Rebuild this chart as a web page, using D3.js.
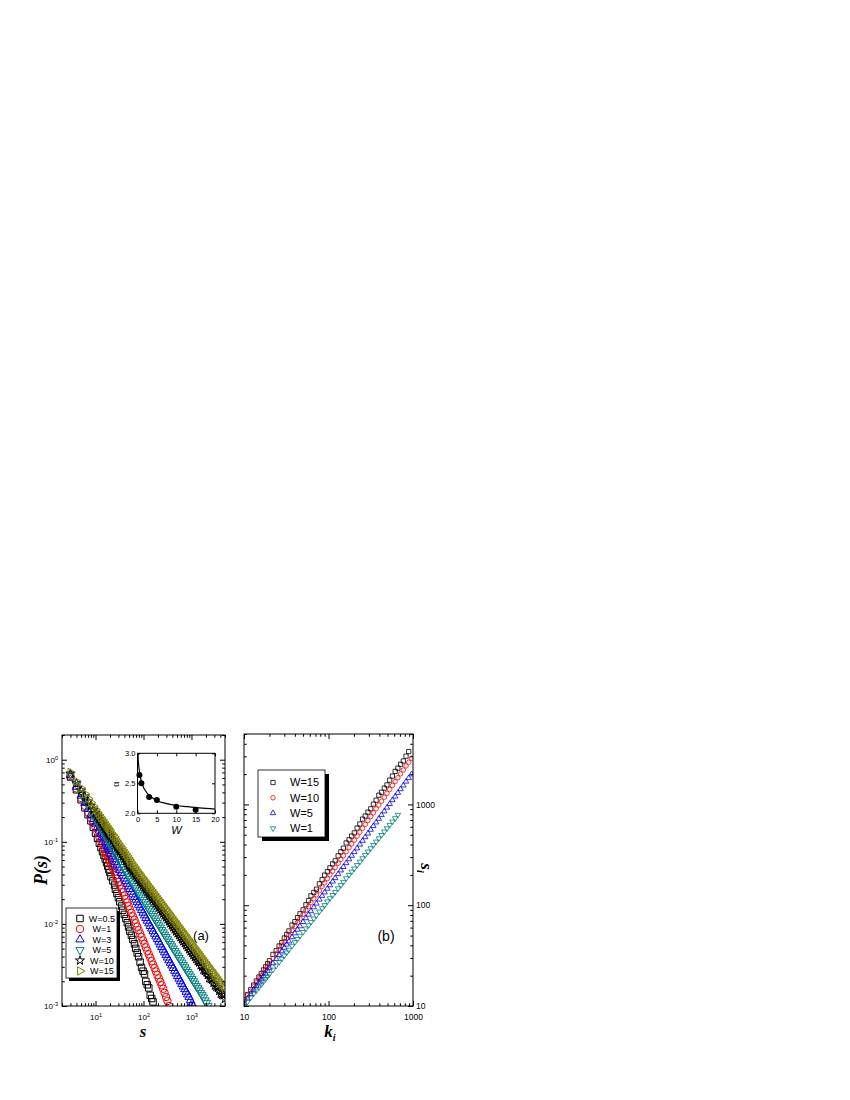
<!DOCTYPE html>
<html>
<head>
<meta charset="utf-8">
<script src="https://cdn.jsdelivr.net/npm/d3@7/dist/d3.min.js"></script>
<style>
  body { margin: 0; background: #fff; }
  svg { display: block; font-family: Arial, "Liberation Sans", sans-serif; }
</style>
</head>
<body>
<svg id="fig" width="850" height="1100"></svg>
<script>
// ---- panel (a): P(s) for several W (values as log10 P) ----
var sVals = [3,4,5,6,7,8,9,10,11,12,13,14,15,16,17,18,19,
  20,21,23,25,26,28,30,32,35,37, 40,43,46,49,52,56,60,65,69,74,
  79,85,91,98,105,112,120,129,138,148, 158,170,182,195,209,224,240,257,275,295,
  316,339,363,389,417,447,479,513,550,589, 631,676,724,776,832,891,955,1023,1096,1175,
  1259,1349,1445,1549,1660,1778,1905,2042,2188,2344, 2512,2692,2884,3090,3311,3548,3802,4074,4365,4677,5000]

var lgW05 = [-0.21,-0.366,-0.488,-0.586,-0.670,-0.744,-0.823,-0.894,-0.958,-1.016,-1.071,-1.120,-1.167,-1.211,-1.255,-1.298,-1.338,
  -1.374,-1.425,-1.476,-1.527,-1.578,-1.629,-1.680,-1.731,-1.782,-1.833,
  -1.884,-1.935,-1.986,-2.037,-2.088,-2.139,-2.190,-2.243,-2.298,-2.354,
  -2.40,-2.465,-2.53,-2.576,-2.61,-2.70,-2.742,-2.78,-2.87,-2.909,
  -2.95,-3.04,-3.075,-3.131]
var lgW1 = [-0.200,-0.350,-0.466,-0.561,-0.642,-0.711,-0.772,-0.828,-0.885,-0.937,-0.985,-1.029,-1.071,-1.110,-1.145,-1.180,-1.213,
  -1.242,-1.283,-1.325,-1.366,-1.408,-1.449,-1.490,-1.532,-1.573,-1.615,
  -1.656,-1.698,-1.740,-1.782,-1.824,-1.866,-1.908,-1.950,-1.992,-2.034,
  -2.076,-2.118,-2.160,-2.202,-2.244,-2.286,-2.328,-2.370,-2.412,-2.454,
  -2.496,-2.538,-2.580,-2.622,-2.664,-2.706,-2.748,-2.790,-2.84,-2.89,
  -2.94,-3.00,-3.06,-3.12]
var lgW3 = [-0.190,-0.330,-0.439,-0.527,-0.602,-0.667,-0.724,-0.776,-0.822,-0.864,-0.903,-0.939,-0.973,-1.004,-1.033,-1.061,-1.088,
  -1.112,-1.146,-1.179,-1.213,-1.246,-1.280,-1.314,-1.347,-1.381,-1.414,
  -1.448,-1.480,-1.512,-1.544,-1.576,-1.609,-1.641,-1.673,-1.705,-1.737,
  -1.769,-1.801,-1.833,-1.865,-1.897,-1.930,-1.962,-1.994,-2.026,-2.058,
  -2.090,-2.122,-2.154,-2.186,-2.218,-2.251,-2.283,-2.315,-2.347,-2.379,
  -2.411,-2.443,-2.475,-2.507,-2.539,-2.572,-2.604,-2.636,-2.668,-2.700,
  -2.732,-2.764,-2.796,-2.828,-2.860,-2.89,-2.93,-2.97,-3.01,-3.06]
var lgW5 = [-0.180,-0.309,-0.409,-0.490,-0.559,-0.619,-0.671,-0.719,-0.761,-0.800,-0.836,-0.869,-0.900,-0.929,-0.956,-0.981,-1.006,
  -1.028,-1.059,-1.090,-1.121,-1.152,-1.183,-1.213,-1.244,-1.275,-1.306,
  -1.337,-1.365,-1.394,-1.422,-1.450,-1.479,-1.507,-1.535,-1.564,-1.592,
  -1.620,-1.649,-1.677,-1.705,-1.734,-1.762,-1.790,-1.819,-1.847,-1.875,
  -1.904,-1.932,-1.960,-1.989,-2.017,-2.045,-2.074,-2.102,-2.130,-2.159,
  -2.187,-2.215,-2.244,-2.272,-2.300,-2.329,-2.357,-2.385,-2.414,-2.442,
  -2.470,-2.499,-2.527,-2.555,-2.584,-2.612,-2.640,-2.669,-2.697,-2.725,
  -2.754,-2.782,-2.810,-2.839,-2.867,-2.895,-2.93,-2.96,-3.00,-3.04]
var lgW10 = [-0.170,-0.285,-0.374,-0.447,-0.509,-0.562,-0.609,-0.651,-0.689,-0.724,-0.756,-0.785,-0.813,-0.839,-0.863,-0.886,-0.908,
  -0.927,-0.955,-0.982,-1.010,-1.037,-1.065,-1.093,-1.120,-1.148,-1.175,
  -1.203,-1.231,-1.258,-1.286,-1.313,-1.341,-1.365,-1.389,-1.413,-1.438,
  -1.462,-1.486,-1.510,-1.534,-1.558,-1.583,-1.607,-1.631,-1.655,-1.679,
  -1.703,-1.728,-1.752,-1.776,-1.800,-1.824,-1.848,-1.873,-1.897,-1.921,
  -1.945,-1.969,-1.993,-2.018,-2.042,-2.066,-2.090,-2.114,-2.138,-2.163,
  -2.187,-2.211,-2.235,-2.259,-2.283,-2.308,-2.332,-2.356,-2.380,-2.404,
  -2.428,-2.453,-2.47,-2.501,-2.525,-2.56,-2.573,-2.59,-2.622,-2.66,
  -2.670,-2.68,-2.718,-2.75,-2.767,-2.78,-2.815,-2.85,-2.863,-2.87,-2.912]
var lgW15 = [-0.155,-0.263,-0.346,-0.414,-0.471,-0.521,-0.565,-0.605,-0.640,-0.673,-0.703,-0.730,-0.756,-0.780,-0.803,-0.824,-0.845,
  -0.863,-0.889,-0.915,-0.940,-0.966,-0.992,-1.018,-1.044,-1.069,-1.095,
  -1.121,-1.147,-1.173,-1.198,-1.224,-1.250,-1.276,-1.302,-1.327,-1.351,
  -1.374,-1.398,-1.422,-1.445,-1.469,-1.492,-1.516,-1.539,-1.563,-1.587,
  -1.610,-1.634,-1.657,-1.681,-1.705,-1.728,-1.752,-1.775,-1.799,-1.823,
  -1.846,-1.870,-1.893,-1.917,-1.941,-1.964,-1.988,-2.011,-2.035,-2.059,
  -2.082,-2.106,-2.129,-2.153,-2.177,-2.200,-2.224,-2.247,-2.271,-2.295,
  -2.318,-2.342,-2.365,-2.389,-2.413,-2.436,-2.460,-2.483,-2.507,-2.531,
  -2.554,-2.578,-2.601,-2.625,-2.649,-2.672,-2.696,-2.719,-2.743,-2.767,-2.790]
var legendA = ['W=0.5', 'W=1', 'W=3', 'W=5', 'W=10', 'W=15']

// ---- inset: exponent alpha vs W ----
var insetW = [0.5, 1, 3, 5, 10, 15]
var insetAlpha = [2.64, 2.50, 2.27, 2.22, 2.11, 2.06]
var fitW = [0.1, 0.3, 0.5, 1, 1.5, 2, 3, 4, 5, 7, 10, 13, 16, 20]
var fitAlpha = [2.98, 2.80, 2.70, 2.53, 2.44, 2.38, 2.30, 2.25, 2.21, 2.17, 2.13, 2.11, 2.09, 2.07]

// ---- panel (b): s_i vs k_i ----
var kVals = [10,11,12,13,14,15,16,17,18,19,20,22,24,26,28,30,32,34,37,40,43,46,50,54,58,62,67,72,78,84,90,97,104,112,120,130,140,150,162,175,188,202,218,235,253,272,293,316,340,366,394,424,457,492,530,571,615,662,713,768,827,890,960]
var siW15 = [11.5,13.0,14.5,16.1,17.7,19.4,21.0,22.8,24.5,26.3,28.1,32.5,35.5,39.4,42.5,47.3,51.4,55.6,63.5,68.7,75.3,82.2,90,101,111,124,134,144,163,179,199,215,235,257,276,309,339,368,415,446,486,522,583,640,715,767,839,905,1007,1102,1235,1321,1452,1560,1742,1910,2130,2291,2506,2700,3013,3350]
var siW10 = [11.2,12.6,14.0,15.5,17.0,18.5,20.0,21.5,23.1,24.7,26.3,29.6,32.9,36.3,39.8,43.4,46.9,50.5,56.1,61.7,67.5,73.3,81.3,89.1,97.3,106,116,127,140,154,167,184,200,218,237,261,285,310,340,373,406,443,485,531,581,634,692,759,826,904,986,1076,1180,1288,1409,1542,1687,1841,2014,2198,2410,2624,2871]
var siW5 = [10.7,11.9,13.2,14.5,15.8,17.1,18.4,19.7,21.0,22.4,23.8,26.5,29.3,32.1,35.0,37.9,40.8,43.8,48.2,52.7,57.3,61.9,68.2,74.5,80.7,87.3,95.5,104,114,124,134,146,158,172,186,204,222,240,262,286,310,337,367,401,436,474,515,562,610,664,721,785,855,931,1012,1104,1199,1306,1419,1545,1687,1828,1991]
var siW1 = [10.0,11.0,12.1,13.2,14.2,15.3,16.4,17.5,18.5,19.6,20.7,22.9,25.1,27.3,29.4,31.7,33.9,36.1,39.5,42.9,46.2,49.7,54.2,58.7,63.2,67.9,73.6,79.4,86.5,93.3,100,109,117,126,135,147,158,170,185,200,215,231,250,270,292,315,340,367,395,427,460,497,537,579,625,676,729,787]
var legendB = ['W=15', 'W=10', 'W=5', 'W=1']

var svg = d3.select('#fig')
var SERIF = '"Liberation Serif", "Times New Roman", serif'

var A = {x0: 62, x1: 225, y0: 735, y1: 1006}
var B = {x0: 244, x1: 413, y0: 734, y1: 1006}

var xA = d3.scaleLog().domain([2, 5000]).range([A.x0, A.x1])
var yA = d3.scaleLog().domain([1e-3, 2]).range([A.y1, A.y0])
var xB = d3.scaleLog().domain([10, 1000]).range([B.x0, B.x1])
var yB = d3.scaleLog().domain([10, 5000]).range([B.y1, B.y0])

function isMajor(v) { var l = Math.log10(v); return Math.abs(l - Math.round(l)) < 1e-6 }

function supLabel(sel, size) {
  sel.each(function (d) {
    var t = d3.select(this)
    t.text(null).attr('font-size', size)
    t.append('tspan').text('10')
    t.append('tspan').attr('dy', '-0.5em').attr('font-size', size * 0.7).text(Math.round(Math.log10(d)))
  })
}

// inward log axis with minor + major ticks; fmt styles the labels (null = no labels)
function logAxis(axisFn, scale, pos, len, pad, fmt) {
  var t = scale.ticks()
  var g = svg.append('g')
  g.append('g').attr('transform', pos)
    .call(axisFn(scale).tickValues(t.filter(function (v) { return !isMajor(v) })).tickSize(-len * 0.55).tickFormat(''))
    .call(function (s) { s.select('.domain').remove() })
  var m = g.append('g').attr('transform', pos)
    .call(axisFn(scale).tickValues(t.filter(isMajor)).tickSize(-len).tickPadding(pad).tickFormat(fmt ? d3.format('d') : ''))
    .call(function (s) { s.select('.domain').remove() })
  if (fmt) fmt(m.selectAll('.tick text'))
  g.selectAll('line').attr('stroke', '#000')
  return g
}

function drawSeries(g, xs, ys, sx, sy, spec) {
  var d = d3.symbol().type(spec.type).size(spec.size)()
  g.append('g').selectAll('path')
    .data(ys.map(function (v, i) { return [xs[i], v] }))
    .join('path')
    .attr('d', d)
    .attr('transform', function (p) { return 'translate(' + sx(p[0]) + ',' + sy(p[1]) + ') rotate(' + (spec.rot || 0) + ')' })
    .attr('fill', 'none')
    .attr('stroke', spec.color)
    .attr('stroke-width', spec.sw || 1)
}

function symbolAt(g, x, y, spec) {
  g.append('path')
    .attr('d', d3.symbol().type(spec.type).size(spec.size)())
    .attr('transform', 'translate(' + x + ',' + y + ') rotate(' + (spec.rot || 0) + ')')
    .attr('fill', 'none').attr('stroke', spec.color).attr('stroke-width', spec.sw || 1)
}

var defs = svg.append('defs')
defs.append('clipPath').attr('id', 'clipA').append('rect')
  .attr('x', A.x0).attr('y', A.y0).attr('width', A.x1 - A.x0).attr('height', A.y1 - A.y0)
defs.append('clipPath').attr('id', 'clipB').append('rect')
  .attr('x', B.x0).attr('y', B.y0).attr('width', B.x1 - B.x0).attr('height', B.y1 - B.y0)

// ================= panel (a) =================
var specA = [
  {type: d3.symbolSquare, size: 42, color: '#000'},
  {type: d3.symbolCircle, size: 44, color: '#ff0000'},
  {type: d3.symbolTriangle, size: 30, color: '#0000ff'},
  {type: d3.symbolTriangle, size: 30, color: '#008080', rot: 180},
  {type: d3.symbolStar, size: 26, color: '#000'},
  {type: d3.symbolTriangle, size: 30, color: '#808000', rot: 90}
]
var seriesA = [lgW05, lgW1, lgW3, lgW5, lgW10, lgW15]

var plotA = svg.append('g').attr('clip-path', 'url(#clipA)')
seriesA.forEach(function (lg, i) {
  drawSeries(plotA, sVals, lg.map(function (v) { return Math.pow(10, v) }), xA, yA, specA[i])
})

logAxis(d3.axisBottom, xA, 'translate(0,' + A.y1 + ')', 5, 8, function (s) { supLabel(s, 8) })
logAxis(d3.axisTop, xA, 'translate(0,' + A.y0 + ')', 5, 0, null)
logAxis(d3.axisLeft, yA, 'translate(' + A.x0 + ',0)', 5, 4, function (s) { supLabel(s, 8) })
logAxis(d3.axisRight, yA, 'translate(' + A.x1 + ',0)', 5, 0, null)

svg.append('rect').attr('x', A.x0).attr('y', A.y0).attr('width', A.x1 - A.x0).attr('height', A.y1 - A.y0)
  .attr('fill', 'none').attr('stroke', '#000').attr('stroke-width', 1)

// legend (a)
var legA = svg.append('g')
legA.append('rect').attr('x', 69).attr('y', 911).attr('width', 51).attr('height', 70).attr('fill', '#000')
legA.append('rect').attr('x', 66).attr('y', 908).attr('width', 51).attr('height', 70)
  .attr('fill', '#fff').attr('stroke', '#000').attr('stroke-width', 0.8)
legendA.forEach(function (name, i) {
  var y = 918.5 + i * 10.5
  symbolAt(legA, 80, y, specA[i])
  legA.append('text').attr('x', 102).attr('y', y).attr('dy', '0.35em')
    .attr('text-anchor', 'middle').attr('font-size', 9).text(name)
})

svg.append('text').attr('x', 201).attr('y', 940).attr('text-anchor', 'middle')
  .attr('font-size', 13).text('(a)')

// inset
var xI = d3.scaleLinear().domain([0, 20]).range([137.5, 215])
var yI = d3.scaleLinear().domain([2, 3]).range([813.3, 753.3])
var inset = svg.append('g')
inset.append('rect').attr('x', 137.5).attr('y', 753.3).attr('width', 77.5).attr('height', 60)
  .attr('fill', '#fff').attr('stroke', '#000').attr('stroke-width', 1)
inset.append('g').attr('transform', 'translate(0,813.3)')
  .call(d3.axisBottom(xI).tickValues([0, 5, 10, 15, 20]).tickSize(-3).tickPadding(3))
inset.append('g').attr('transform', 'translate(0,753.3)')
  .call(d3.axisTop(xI).tickValues([0, 5, 10, 15, 20]).tickSize(-3).tickFormat(''))
inset.append('g').attr('transform', 'translate(137.5,0)')
  .call(d3.axisLeft(yI).tickValues([2, 2.5, 3]).tickSize(-3).tickPadding(2).tickFormat(d3.format('.1f')))
inset.append('g').attr('transform', 'translate(215,0)')
  .call(d3.axisRight(yI).tickValues([2, 2.5, 3]).tickSize(-3).tickFormat(''))
inset.selectAll('.domain').remove()
inset.selectAll('.tick text').attr('font-size', 7.5)

inset.append('path')
  .datum(fitW.map(function (w, i) { return [w, fitAlpha[i]] }))
  .attr('d', d3.line().x(function (d) { return xI(d[0]) }).y(function (d) { return yI(d[1]) }).curve(d3.curveMonotoneX))
  .attr('fill', 'none').attr('stroke', '#000').attr('stroke-width', 1.2)
inset.selectAll('circle.pt')
  .data(insetW.map(function (w, i) { return [w, insetAlpha[i]] }))
  .join('circle').attr('class', 'pt')
  .attr('cx', function (d) { return xI(d[0]) }).attr('cy', function (d) { return yI(d[1]) })
  .attr('r', 3).attr('fill', '#000')
inset.append('text').attr('x', 176.5).attr('y', 834).attr('text-anchor', 'middle')
  .attr('font-size', 11).attr('font-style', 'italic').text('W')
inset.append('text').attr('transform', 'translate(119,784) rotate(-90)').attr('text-anchor', 'middle')
  .attr('font-size', 10).attr('font-family', SERIF).text('α')

// axis titles (a)
svg.append('text').attr('transform', 'translate(47,870) rotate(-90)').attr('text-anchor', 'middle')
  .attr('font-family', SERIF).attr('font-weight', 'bold')
  .attr('font-style', 'italic').attr('font-size', 18).text('P(s)')
svg.append('text').attr('x', 143).attr('y', 1036.5).attr('text-anchor', 'middle')
  .attr('font-family', SERIF).attr('font-weight', 'bold')
  .attr('font-style', 'italic').attr('font-size', 17).text('s')

// ================= panel (b) =================
var specB = [
  {type: d3.symbolSquare, size: 18, color: '#000', sw: 0.8},
  {type: d3.symbolCircle, size: 16, color: '#ff0000', sw: 0.8},
  {type: d3.symbolTriangle, size: 13, color: '#0000ff', sw: 0.8},
  {type: d3.symbolTriangle, size: 13, color: '#008080', rot: 180, sw: 0.8}
]
var seriesB = [siW15, siW10, siW5, siW1]

var plotB = svg.append('g').attr('clip-path', 'url(#clipB)')
seriesB.forEach(function (ys, i) { drawSeries(plotB, kVals, ys, xB, yB, specB[i]) })

logAxis(d3.axisBottom, xB, 'translate(0,' + B.y1 + ')', 5, 8, function (s) { s.attr('font-size', 8.5) })
logAxis(d3.axisTop, xB, 'translate(0,' + B.y0 + ')', 5, 0, null)
logAxis(d3.axisLeft, yB, 'translate(' + B.x0 + ',0)', 5, 0, null)
logAxis(d3.axisRight, yB, 'translate(' + B.x1 + ',0)', 5, 3, function (s) { s.attr('font-size', 8.5) })

svg.append('rect').attr('x', B.x0).attr('y', B.y0).attr('width', B.x1 - B.x0).attr('height', B.y1 - B.y0)
  .attr('fill', 'none').attr('stroke', '#000').attr('stroke-width', 1)

// legend (b)
var legB = svg.append('g')
legB.append('rect').attr('x', 262).attr('y', 774).attr('width', 67).attr('height', 67).attr('fill', '#000')
legB.append('rect').attr('x', 258).attr('y', 770).attr('width', 67).attr('height', 67)
  .attr('fill', '#fff').attr('stroke', '#000').attr('stroke-width', 0.8)
legendB.forEach(function (name, i) {
  var y = 782.5 + i * 15.3
  symbolAt(legB, 273, y, specB[i])
  legB.append('text').attr('x', 290).attr('y', y).attr('dy', '0.35em')
    .attr('font-size', 11).text(name)
})

svg.append('text').attr('x', 386).attr('y', 941).attr('text-anchor', 'middle')
  .attr('font-size', 14).text('(b)')

// axis titles (b)
var kt = svg.append('text').attr('x', 330).attr('y', 1036.5).attr('text-anchor', 'middle')
  .attr('font-family', SERIF).attr('font-weight', 'bold')
  .attr('font-style', 'italic').attr('font-size', 17)
kt.append('tspan').text('k')
kt.append('tspan').attr('dy', 4).attr('font-size', 10).text('i')
var st = svg.append('text').attr('transform', 'translate(421,868) rotate(90)').attr('text-anchor', 'middle')
  .attr('font-family', SERIF).attr('font-weight', 'bold')
  .attr('font-style', 'italic').attr('font-size', 17)
st.append('tspan').text('s')
st.append('tspan').attr('dy', 4).attr('font-size', 10).text('i')

svg.selectAll('.tick text').attr('font-family', 'Arial, "Liberation Sans", sans-serif').attr('fill', '#000')
</script>
</body>
</html>
